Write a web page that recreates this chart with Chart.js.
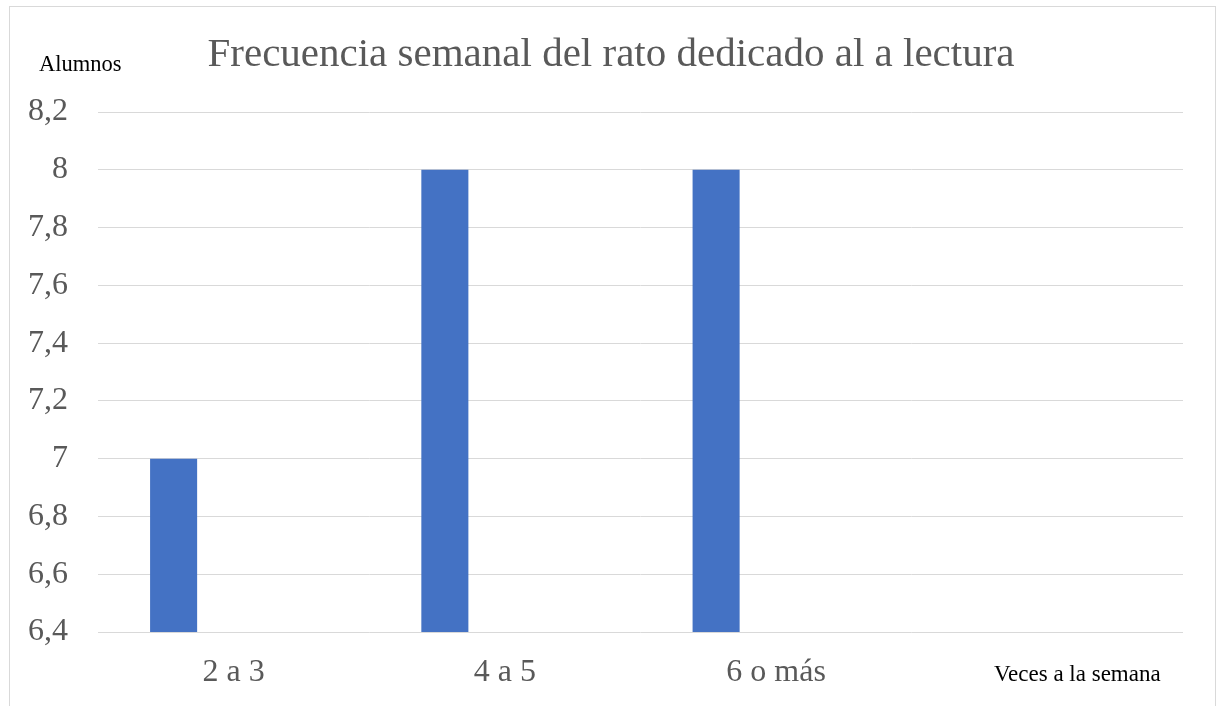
<!DOCTYPE html>
<html lang="es">
<head>
<meta charset="UTF-8">
<title>Frecuencia semanal del rato dedicado al a lectura</title>
<script src="https://cdn.jsdelivr.net/npm/chart.js@4.4.1/dist/chart.umd.min.js"></script>
<style>
    html, body { margin: 0; padding: 0; background: #fff; }
    #contenedor { position: relative; width: 1217px; height: 706px; }
</style>
</head>
<body>
<div id="contenedor">
    <canvas id="graficoLectura"></canvas>
</div>
<script>
// Datos del grafico
const categorias = ["2 a 3", "4 a 5", "6 o más", ""];
const alumnos = [7, 8, 8, null];
const serieVacia = [null, null, null, null];

const titulo = "Frecuencia semanal del rato dedicado al a lectura";
const tituloEjeY = "Alumnos";
const tituloEjeX = "Veces a la semana";

const fuente = "'Liberation Serif', 'Times New Roman', serif";

// Formatea los numeros con coma decimal (8,2 / 7)
function formatearNumero(valor) {
    return String(Number(valor.toFixed(1))).replace(".", ",");
}

// Plugin para el marco, el titulo y los textos de los ejes
const textosExtra = {
    id: "textosExtra",
    beforeDraw(chart) {
        const ctx = chart.ctx;
        ctx.save();
        ctx.strokeStyle = "#d9d9d9";
        ctx.lineWidth = 1;
        ctx.strokeRect(9.5, 6.5, 1206, 720);
        ctx.restore();
    },
    afterDraw(chart) {
        const ctx = chart.ctx;
        ctx.save();
        ctx.textBaseline = "alphabetic";

        ctx.fillStyle = "#595959";
        ctx.font = "41px " + fuente;
        ctx.textAlign = "center";
        ctx.fillText(titulo, 611, 66);

        ctx.fillStyle = "#000";
        ctx.textAlign = "left";
        ctx.font = "22.5px " + fuente;
        ctx.fillText(tituloEjeY, 39, 71);
        ctx.font = "23px " + fuente;
        ctx.fillText(tituloEjeX, 994, 681);
        ctx.restore();
    }
};

const ctx = document.getElementById("graficoLectura").getContext("2d");
new Chart(ctx, {
    type: "bar",
    data: {
        labels: categorias,
        datasets: [
            {
                label: "Alumnos",
                data: alumnos,
                backgroundColor: "#4472C4",
                borderWidth: 0,
                categoryPercentage: 0.885,
                barPercentage: 0.392
            },
            {
                label: "Serie 2",
                data: serieVacia,
                backgroundColor: "#ED7D31",
                borderWidth: 0,
                categoryPercentage: 0.885,
                barPercentage: 0.392
            }
        ]
    },
    options: {
        responsive: true,
        maintainAspectRatio: false,
        animation: false,
        layout: {
            padding: { top: 112, right: 34, bottom: 0, left: 0 }
        },
        plugins: {
            legend: { display: false },
            title: { display: false },
            tooltip: { enabled: false }
        },
        scales: {
            x: {
                grid: { display: false, drawTicks: false },
                border: { display: false },
                ticks: {
                    color: "#595959",
                    font: { family: fuente, size: 32 },
                    padding: 21,
                    maxRotation: 0
                },
                afterFit(scale) {
                    scale.height = 74;
                }
            },
            y: {
                min: 6.4,
                max: 8.2,
                grid: { color: "#d9d9d9", lineWidth: 1, drawTicks: false },
                border: { display: false },
                ticks: {
                    stepSize: 0.2,
                    color: "#595959",
                    font: { family: fuente, size: 32 },
                    padding: 30,
                    callback: (valor) => formatearNumero(valor)
                },
                afterFit(scale) {
                    scale.width = 98;
                }
            }
        }
    },
    plugins: [textosExtra]
});
</script>
</body>
</html>
